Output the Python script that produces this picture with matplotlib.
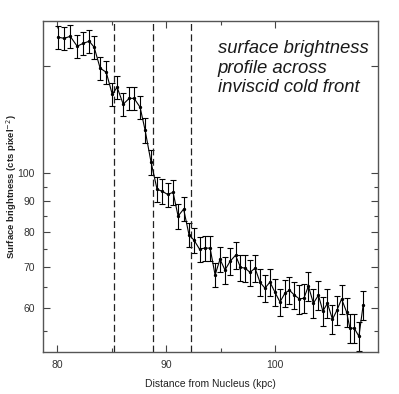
import numpy as np
import matplotlib
matplotlib.use("Agg")
import matplotlib.pyplot as plt
from matplotlib.ticker import FixedLocator, NullFormatter

# distance from nucleus (kpc)
dist = [80.09, 80.64, 81.19, 81.83, 82.39, 82.94, 83.39, 83.94, 84.50, 85.05,
        85.50, 86.06, 86.61, 87.06, 87.61, 88.07, 88.62, 89.17, 89.63, 90.14,
        90.64, 91.10, 91.61, 92.11, 92.57, 93.07, 93.53, 94.04, 94.50, 94.95,
        95.41, 95.87, 96.38, 96.83, 97.25, 97.71, 98.17, 98.62, 99.08, 99.54,
        100.00, 100.46, 100.92, 101.33, 101.79, 102.25, 102.66, 103.07, 103.53, 103.99,
        104.40, 104.82, 105.28, 105.69, 106.12, 106.58, 106.88, 107.28, 107.71, 108.10]

# surface brightness (cts pixel^-2)
sb = [167.4, 166.7, 168.0, 161.8, 163.6, 164.9, 161.2, 148.9, 146.6, 134.9,
      138.5, 129.9, 132.8, 132.8, 128.4, 117.7, 104.2, 94.1, 93.4, 92.3,
      93.0, 85.0, 87.3, 79.1, 77.6, 75.0, 75.3, 75.3, 68.0, 72.2,
      69.3, 71.6, 73.3, 70.0, 69.8, 68.7, 69.8, 66.2, 64.7, 66.2,
      63.7, 61.4, 63.5, 64.2, 63.0, 62.1, 62.3, 65.2, 61.1, 63.0,
      59.3, 61.1, 57.5, 59.5, 62.1, 59.1, 55.6, 55.6, 53.9, 60.7]

sb_err = [7.2, 7.2, 7.2, 7.0, 7.0, 7.1, 6.9, 6.4, 6.3, 5.8,
          6.0, 5.6, 5.7, 5.7, 5.5, 5.4, 4.8, 4.3, 4.3, 4.2,
          4.3, 3.9, 4.0, 3.6, 3.6, 3.5, 3.5, 3.5, 3.1, 3.3,
          3.5, 3.6, 3.7, 3.5, 3.5, 3.4, 3.5, 3.3, 3.2, 3.3,
          3.2, 3.1, 3.2, 3.2, 3.2, 3.4, 3.4, 3.6, 3.4, 3.5,
          3.3, 3.4, 3.2, 3.3, 3.4, 3.3, 3.1, 3.1, 3.0, 3.3]

# dashed markers
vlines = [85.23, 88.81, 92.29]

x_major = [80, 90, 100]
x_minor = [85, 95]
y_major = [60, 70, 80, 90, 100, 150]
y_labels = ["60", "70", "80", "90", "100", ""]
y_minor = [55, 65, 75, 85, 95]

plt.rcParams['font.family'] = ['Liberation Sans', 'DejaVu Sans']

fig = plt.figure(figsize=(3.99, 3.94), dpi=100)
ax = fig.add_axes([0.108, 0.1066, 0.839, 0.840])

ax.errorbar(dist, sb, yerr=sb_err, color='black', lw=0.8, elinewidth=0.8,
            capsize=2.4, capthick=0.8, marker='o', ms=1.4)

for v in vlines:
    ax.axvline(v, color='#222222', lw=0.9, linestyle=(0, (5.5, 2.8)))

ax.set_yscale('log')
ax.set_xlim(78.7, 109.45)
ax.set_ylim(50.8, 178)

ax.xaxis.set_major_locator(FixedLocator(x_major))
ax.xaxis.set_minor_locator(FixedLocator(x_minor))
ax.yaxis.set_major_locator(FixedLocator(y_major))
ax.yaxis.set_minor_locator(FixedLocator(y_minor))
ax.set_yticklabels(y_labels)
ax.yaxis.set_minor_formatter(NullFormatter())

ax.tick_params(which='both', direction='in', top=True, right=True,
               colors='#444444', labelcolor='#333333', labelsize=7.5)
ax.tick_params(which='major', length=5, width=0.8, pad=6)
ax.tick_params(which='minor', length=3, width=0.8)
for s in ax.spines.values():
    s.set_color('#555555')
    s.set_linewidth(1.0)

ax.set_xlabel("Distance from Nucleus (kpc)", fontsize=7.5, color='#222222', labelpad=6)
ax.set_ylabel("Surface brightness (cts pixel$^{-2}$)", fontsize=6.8,
              fontweight='bold', color='#222222')
ax.yaxis.set_label_coords(-0.073, 0.5)

ax.text(0.522, 0.942, "surface brightness\nprofile across\ninviscid cold front",
        transform=ax.transAxes, ha='left', va='top', fontsize=13.3,
        style='italic', color='#1a1a1a', linespacing=1.18)

fig.savefig("out.png", dpi=100)
